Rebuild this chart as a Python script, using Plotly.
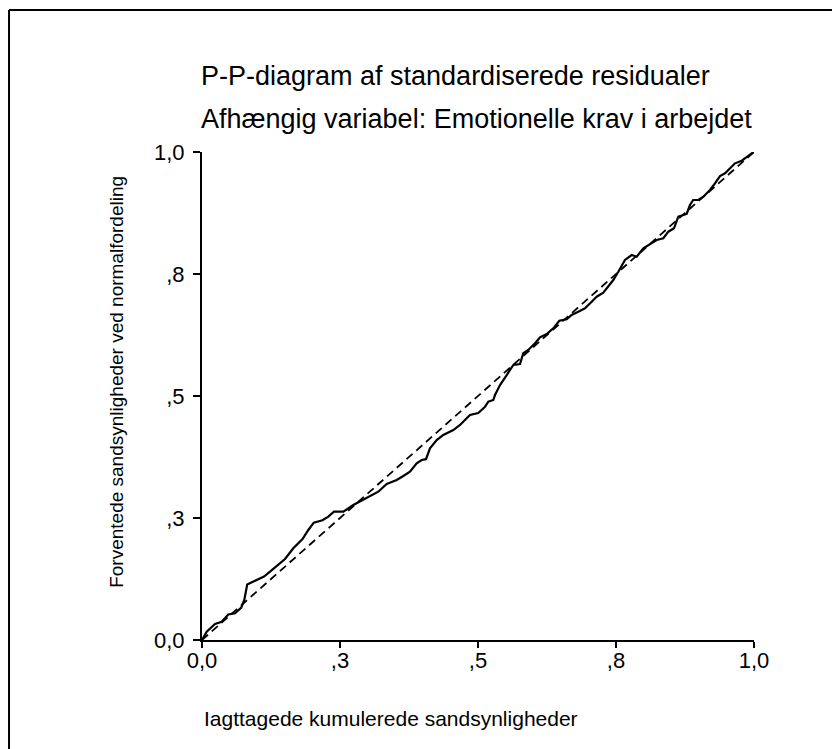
import plotly.graph_objects as go

# observerede kumulerede sandsynligheder (x) og forventede (y)
observed = [0.0, 0.0085, 0.0236, 0.0357, 0.0476, 0.0598, 0.0712, 0.0766, 0.0819, 0.0978,
            0.1123, 0.1232, 0.1368, 0.1504, 0.1654, 0.1821, 0.1926, 0.2025, 0.2183, 0.2288,
            0.2391, 0.256, 0.2741, 0.2922, 0.3043, 0.3194, 0.3346, 0.3527, 0.3647, 0.3768,
            0.3889, 0.398, 0.4058, 0.413, 0.4252, 0.4371, 0.4553, 0.4674, 0.4795, 0.4855,
            0.5005, 0.5127, 0.5187, 0.5277, 0.5308, 0.5399, 0.552, 0.564, 0.5761, 0.582,
            0.5911, 0.6033, 0.6123, 0.6245, 0.6364, 0.6473, 0.6607, 0.6697, 0.6817, 0.6938,
            0.706, 0.715, 0.727, 0.736, 0.7451, 0.7542, 0.7663, 0.7784, 0.7875, 0.7995,
            0.8116, 0.8237, 0.8357, 0.8448, 0.8551, 0.8629, 0.878, 0.884, 0.8899, 0.8991,
            0.9082, 0.9203, 0.9293, 0.9384, 0.9475, 0.9565, 0.9656, 0.9777, 0.9868, 0.9958, 1.0]
expected = [0.0, 0.017, 0.0328, 0.0375, 0.0523, 0.0547, 0.0666, 0.082, 0.1137, 0.1215,
            0.1301, 0.140, 0.1537, 0.166, 0.1879, 0.207, 0.2254, 0.2404, 0.2453, 0.2527,
            0.2629, 0.2629, 0.2766, 0.2869, 0.2936, 0.3039, 0.3197, 0.3279, 0.3361, 0.3449,
            0.3621, 0.3689, 0.3705, 0.3928, 0.4098, 0.4201, 0.4303, 0.4406, 0.4543, 0.4611,
            0.4652, 0.4781, 0.4883, 0.4918, 0.502, 0.5225, 0.543, 0.5635, 0.5656, 0.5875,
            0.5943, 0.608, 0.6203, 0.627, 0.6387, 0.6543, 0.6572, 0.666, 0.6727, 0.6797,
            0.6932, 0.7035, 0.7117, 0.724, 0.7377, 0.7547, 0.7787, 0.7889, 0.7855, 0.8027,
            0.8115, 0.8197, 0.8232, 0.8367, 0.8436, 0.8674, 0.873, 0.8914, 0.9016, 0.9016,
            0.9084, 0.9221, 0.9359, 0.9508, 0.9563, 0.9666, 0.9768, 0.9822, 0.9904, 0.9973, 1.0]

tick_vals = [0, 0.25, 0.5, 0.75, 1.0]
tick_text = ["0,0", ",3", ",5", ",8", "1,0"]

FONT = "Liberation Sans, Arial, sans-serif"

fig = go.Figure()

# referencelinje (diagonal)
fig.add_trace(go.Scatter(x=[0, 1], y=[0, 1], mode="lines",
                         line=dict(color="black", width=1.8, dash="8px,5px"),
                         hoverinfo="skip"))

fig.add_trace(go.Scatter(x=observed, y=expected, mode="lines",
                         line=dict(color="black", width=2.2)))

fig.update_layout(
    width=840, height=749,
    margin=dict(l=194, r=94, t=144, b=117),
    plot_bgcolor="white", paper_bgcolor="white",
    showlegend=False,
    font=dict(family=FONT, color="black"),
)

fig.update_xaxes(range=[0, 1], tickvals=tick_vals, ticktext=tick_text,
                 showgrid=False, zeroline=False, showline=True, linecolor="black", linewidth=2,
                 ticks="outside", ticklen=6, tickwidth=1.5, tickcolor="black",
                 tickfont=dict(size=22), ticklabelstandoff=-6)
fig.update_yaxes(range=[0, 1], tickvals=tick_vals, ticktext=tick_text,
                 showgrid=False, zeroline=False, showline=True, linecolor="black", linewidth=2,
                 ticks="outside", ticklen=7, tickwidth=1.5, tickcolor="black",
                 tickfont=dict(size=22), ticklabelstandoff=4)

fig.add_annotation(text="P-P-diagram af standardiserede residualer",
                   xref="paper", yref="paper", x=-0.005, y=1.156,
                   xanchor="left", yanchor="middle", showarrow=False, font=dict(size=27))
fig.add_annotation(text="Afhængig variabel: Emotionelle krav i arbejdet",
                   xref="paper", yref="paper", x=-0.005, y=1.068,
                   xanchor="left", yanchor="middle", showarrow=False, font=dict(size=27))
fig.add_annotation(text="Iagttagede kumulerede sandsynligheder",
                   xref="paper", yref="paper", x=0.0, y=-0.16,
                   xanchor="left", yanchor="middle", showarrow=False, font=dict(size=21))
fig.add_annotation(text="Forventede sandsynligheder ved normalfordeling",
                   xref="paper", yref="paper", x=-0.154, y=0.529, textangle=-90,
                   xanchor="center", yanchor="middle", showarrow=False, font=dict(size=19))

# ramme (top og venstre kant)
fig.add_shape(type="line", xref="paper", yref="paper", x0=-0.3496, x1=1.2, y0=1.291, y1=1.291,
              line=dict(color="black", width=2))
fig.add_shape(type="line", xref="paper", yref="paper", x0=-0.3496, x1=-0.3496, y0=1.291, y1=-0.25,
              line=dict(color="black", width=2))

fig.write_html("out.html")
